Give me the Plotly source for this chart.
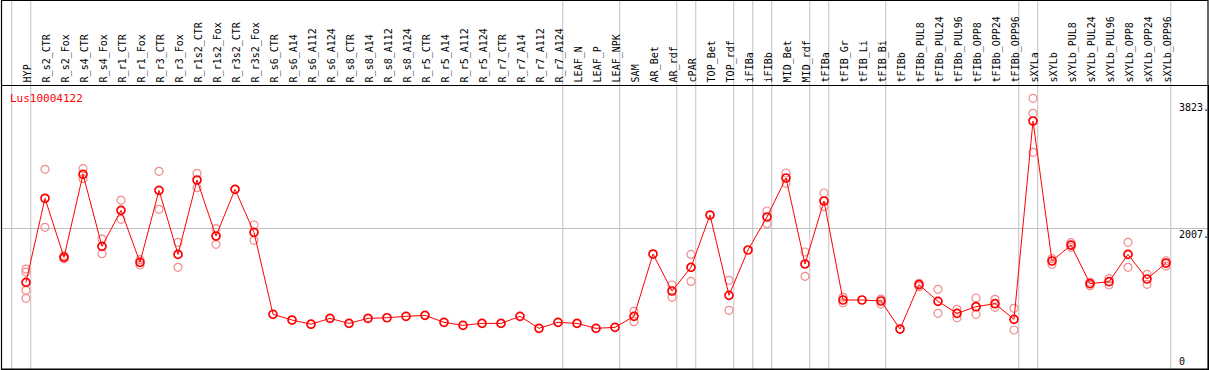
import plotly.graph_objects as go

# ---------------- data ----------------
categories = [
    "HYP", "R_s2_CTR", "R_s2_Fox", "R_s4_CTR", "R_s4_Fox", "R_r1_CTR", "R_r1_Fox",
    "R_r3_CTR", "R_r3_Fox", "R_r1s2_CTR", "R_r1s2_Fox", "R_r3s2_CTR", "R_r3s2_Fox",
    "R_s6_CTR", "R_s6_A14", "R_s6_A112", "R_s6_A124", "R_s8_CTR", "R_s8_A14",
    "R_s8_A112", "R_s8_A124", "R_r5_CTR", "R_r5_A14", "R_r5_A112", "R_r5_A124",
    "R_r7_CTR", "R_r7_A14", "R_r7_A112", "R_r7_A124", "LEAF_N", "LEAF_P", "LEAF_NPK",
    "SAM", "AR_Bet", "AR_rdf", "cPAR", "TOP_Bet", "TOP_rdf", "iFIBa", "iFIBb",
    "MID_Bet", "MID_rdf", "tFIBa", "tFIB_Gr", "tFIB_Li", "tFIB_Bi", "tFIBb",
    "tFIBb_PUL8", "tFIBb_PUL24", "tFIBb_PUL96", "tFIBb_OPP8", "tFIBb_OPP24",
    "tFIBb_OPP96", "sXYLa", "sXYLb", "sXYLb_PUL8", "sXYLb_PUL24", "sXYLb_PUL96",
    "sXYLb_OPP8", "sXYLb_OPP24", "sXYLb_OPP96",
]

mean_values = [
    1228, 2433, 1587, 2776, 1744, 2260, 1515, 2547, 1629, 2695, 1892, 2561, 1945,
    770, 688, 628, 712, 640, 712, 721, 741, 755, 655, 612, 640, 640, 741, 569, 655,
    640, 569, 583,
    741, 1634, 1104, 1443, 2193, 1042, 1692, 2165, 2724, 1491, 2394, 975, 975, 961,
    559, 1195, 956, 784, 879, 922, 698, 3541, 1534, 1763, 1209, 1238, 1629, 1276, 1505,
]

replicate_categories = [
    "HYP", "HYP", "HYP", "HYP",
    "R_s2_CTR", "R_s2_CTR", "R_s2_Fox", "R_s2_Fox", "R_s4_CTR", "R_s4_CTR",
    "R_s4_Fox", "R_s4_Fox", "R_r1_CTR", "R_r1_CTR", "R_r1_Fox", "R_r1_Fox",
    "R_r3_CTR", "R_r3_CTR", "R_r3_Fox", "R_r3_Fox", "R_r1s2_CTR", "R_r1s2_CTR",
    "R_r1s2_Fox", "R_r1s2_Fox", "R_r3s2_Fox", "R_r3s2_Fox",
    "SAM", "SAM", "AR_rdf", "AR_rdf", "cPAR", "cPAR", "TOP_rdf", "TOP_rdf",
    "iFIBb", "iFIBb", "MID_Bet", "MID_Bet", "MID_rdf", "MID_rdf", "tFIBa", "tFIBa",
    "tFIB_Gr", "tFIB_Gr", "tFIB_Bi", "tFIB_Bi",
    "tFIBb_PUL8", "tFIBb_PUL8", "tFIBb_PUL24", "tFIBb_PUL24", "tFIBb_PUL96", "tFIBb_PUL96",
    "tFIBb_OPP8", "tFIBb_OPP8", "tFIBb_OPP24", "tFIBb_OPP24", "tFIBb_OPP96", "tFIBb_OPP96",
    "sXYLa", "sXYLa", "sXYLa", "sXYLb", "sXYLb", "sXYLb_PUL8", "sXYLb_PUL8",
    "sXYLb_PUL24", "sXYLb_PUL24", "sXYLb_PUL96", "sXYLb_PUL96",
    "sXYLb_OPP8", "sXYLb_OPP8", "sXYLb_OPP24", "sXYLb_OPP24", "sXYLb_OPP96", "sXYLb_OPP96",
]
replicate_values = [
    1419, 1376, 1114, 999,
    2848, 2017, 1610, 1565, 2857, 2714,
    1849, 1639, 2404, 2132, 1553, 1477,
    2820, 2275, 1802, 1443, 2791, 2585,
    1997, 1773, 2050, 1830,
    813, 664, 1190, 1013, 1629, 1242, 1257, 827,
    2251, 2069, 2796, 2648, 1663, 1314, 2509, 2313,
    1013, 936, 989, 917,
    1214, 1166, 1128, 784, 841, 721,
    1004, 770, 985, 870, 856, 545,
    3866, 3651, 3092, 1567, 1487, 1797, 1730,
    1233, 1180, 1281, 1190,
    1802, 1443, 1343, 1200, 1538, 1462,
]

# first category of each tissue group (vertical separators)
group_starts = ["HYP", "R_s2_CTR", "LEAF_N", "SAM", "cPAR", "TOP_Bet", "iFIBa",
                "iFIBb", "MID_Bet", "tFIBa", "tFIB_Gr", "tFIBb", "sXYLa", "sXYLb"]

gene_name = "Lus10004122"
y_labels = [3823, 2007, 0]
grid_value = 2007
y_max = 4050

# ---------------- figure ----------------
W, H = 1209, 370
FONT = "DejaVu Sans Mono"
x_idx = list(range(len(categories)))
rep_x = [categories.index(c) for c in replicate_categories]

fig = go.Figure()
fig.add_trace(go.Scatter(
    x=rep_x, y=replicate_values, mode="markers",
    marker=dict(symbol="circle-open", size=8, color="#F08C8C", line=dict(width=1.2)),
    hoverinfo="skip", showlegend=False,
))
fig.add_trace(go.Scatter(
    x=x_idx, y=mean_values, mode="lines+markers",
    line=dict(color="#FF0000", width=1),
    marker=dict(symbol="circle-open", size=8, color="#FF0000", line=dict(width=1.7)),
    showlegend=False,
))

# vertical separators (full height, including label band)
sep_x = [categories.index(c) - 0.75 for c in group_starts] + [len(categories) - 0.75]
for sx in sep_x:
    fig.add_shape(type="line", xref="x", yref="paper", x0=sx, x1=sx, y0=0, y1=1,
                  line=dict(color="#C0C0C0", width=1), layer="below")

# outer frame around label band
fig.add_shape(type="rect", xref="paper", yref="paper",
              x0=1.5 / W, x1=1208 / W, y0=(H - 369) / H, y1=1 - 0.5 / H,
              line=dict(color="black", width=1.2), layer="above")

# right-side value labels
for v in y_labels:
    fig.add_annotation(
        x=1178 / W, xref="paper", xanchor="left",
        y=v, yref="y", yanchor="bottom" if v == 0 else "top",
        text=(f"{v}." if v != 0 else "0"), showarrow=False,
        font=dict(family=FONT, size=10, color="black"), borderpad=0,
    )

fig.add_annotation(
    x=9 / W, xref="paper", xanchor="left",
    y=1 - 91 / H, yref="paper", yanchor="top",
    text=gene_name, showarrow=False,
    font=dict(family=FONT, size=11, color="#FF0000"), borderpad=0,
)

x0_px, x1_px = 1.5, 1208.0
step = 19.0
first_px = 26.0
xr0 = -(first_px - x0_px) / step
xr1 = xr0 + (x1_px - x0_px) / step

fig.update_layout(
    width=W, height=H,
    margin=dict(l=0, r=0, t=0, b=0),
    paper_bgcolor="white", plot_bgcolor="white",
    font=dict(family=FONT, size=10, color="black"),
    xaxis=dict(
        domain=[x0_px / W, x1_px / W], range=[xr0, xr1],
        tickvals=x_idx, ticktext=categories, side="top", tickangle=-90,
        ticks="", showgrid=False, zeroline=False, automargin=False,
        showline=True, mirror=True, linecolor="black", linewidth=1.2,
        tickfont=dict(family=FONT, size=10, color="black"),
        ticklabelshift=2,
    ),
    yaxis=dict(
        domain=[(H - 369) / H, (H - 85.5) / H], range=[-14, y_max],
        tickvals=[grid_value], showticklabels=False, ticks="",
        showgrid=True, gridcolor="#C0C0C0", gridwidth=1, zeroline=False,
        automargin=False, showline=True, mirror=True, linecolor="black", linewidth=1.2,
    ),
)

fig.write_html(
    "out.html",
    config={"displayModeBar": False},
    post_script="document.body.style.margin='0';document.body.style.overflow='hidden';",
)
